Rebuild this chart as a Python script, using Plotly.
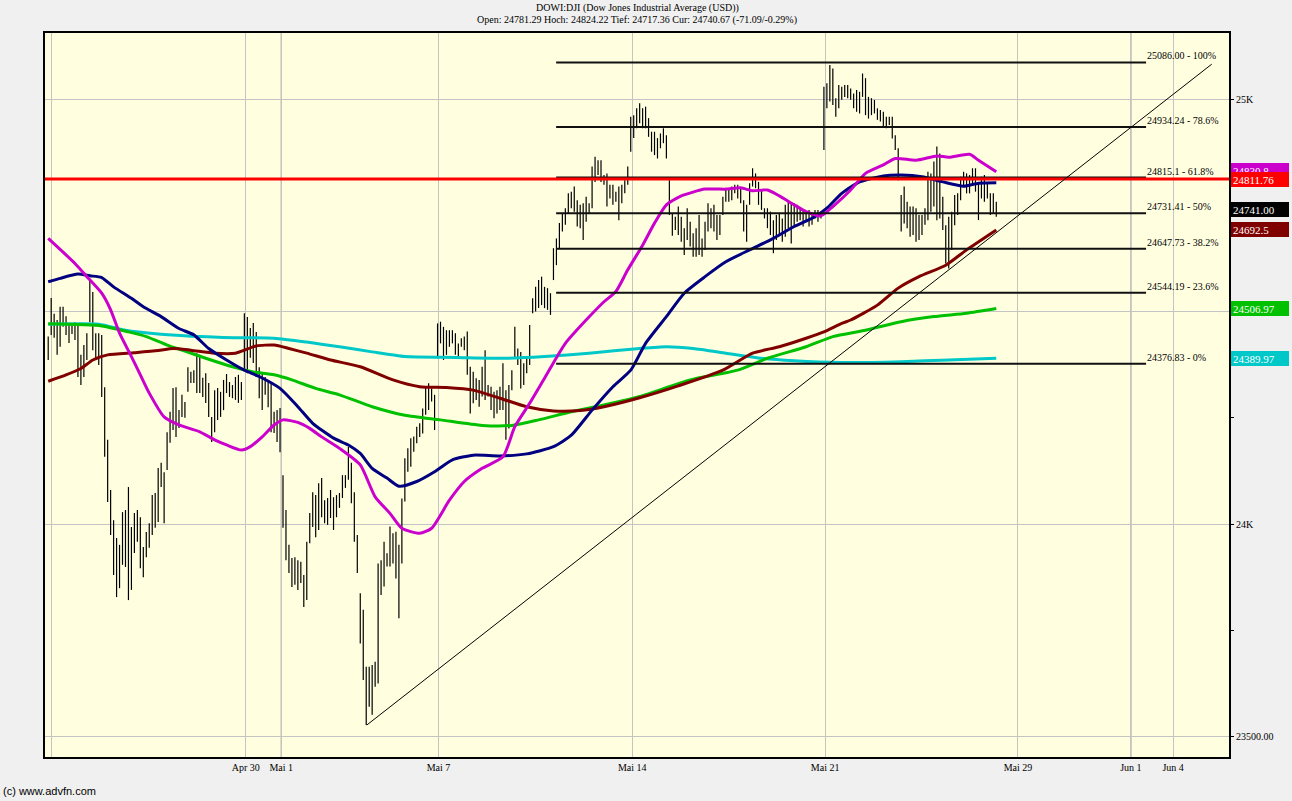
import plotly.graph_objects as go

# ---------------- data (30-minute bars, DJI, Apr 20 - May 25 2018) ----------------
bar_high = [
    24441, 24532, 24495, 24480, 24511, 24511, 24489, 24468, 24473, 24475,
    24468, 24398, 24421, 24449, 24574, 24546, 24449, 24449, 24445, 24322,
    24198, 24080, 24009, 23967, 23951, 24028, 24033, 24087, 23993, 24026,
    24033, 24016, 23946, 23981, 24002, 24068, 24073, 24132, 24144, 24122,
    24216, 24264, 24320, 24322, 24268, 24304, 24287, 24369, 24358, 24362,
    24402, 24398, 24344, 24355, 24332, 24252, 24315, 24320, 24311, 24339,
    24353, 24334, 24327, 24346, 24351, 24334, 24496, 24487, 24461, 24473,
    24452, 24369, 24355, 24346, 24339, 24332, 24264, 24268, 24273, 24115,
    24033, 23951, 23920, 23922, 23915, 23911, 23880, 23958, 24026, 24075,
    24068, 24096, 24108, 24056, 24061, 24080, 24063, 24068, 24073, 24115,
    24115, 24181, 24144, 24075, 23974, 23837, 23798, 23664, 23664, 23668,
    23676, 23907, 23915, 23958, 23931, 23994, 23978, 23982, 23951, 24060,
    24155, 24178, 24202, 24206, 24229, 24237, 24272, 24323, 24331, 24319,
    24304, 24472, 24476, 24464, 24456, 24456, 24456, 24449, 24425, 24437,
    24441, 24453, 24370, 24358, 24343, 24339, 24370, 24409, 24327, 24323,
    24311, 24315, 24323, 24378, 24315, 24327, 24362, 24464, 24413, 24405,
    24378, 24394, 24468, 24531, 24558, 24574, 24582, 24558, 24555, 24543,
    24649, 24672, 24708, 24731, 24743, 24778, 24782, 24794, 24762, 24751,
    24755, 24770, 24755, 24841, 24864, 24856, 24856, 24821, 24825, 24798,
    24798, 24782, 24794, 24798, 24809, 24841, 24958, 24962, 24978, 24990,
    24978, 24982, 24955, 24923, 24923, 24908, 24919, 24931, 24915, 24809,
    24730, 24723, 24747, 24723, 24696, 24743, 24711, 24684, 24696, 24727,
    24672, 24711, 24755, 24743, 24751, 24727, 24727, 24770, 24790, 24790,
    24794, 24798, 24798, 24790, 24762, 24751, 24802, 24837, 24825, 24805,
    24786, 24743, 24743, 24735, 24715, 24727, 24731, 24719, 24751, 24758,
    24755, 24755, 24751, 24743, 24739, 24735, 24739, 24731, 24739, 24739,
    24735, 25029, 25037, 25080, 25072, 25002, 25033, 25029, 25033, 25033,
    25025, 25013, 25021, 25017, 25060, 25049, 25005, 25002, 24998, 24978,
    24974, 24970, 24958, 24958, 24958, 24915, 24884, 24774, 24794, 24758,
    24747, 24747, 24743, 24727, 24727, 24743, 24829, 24825, 24853, 24888,
    24872, 24770, 24703, 24723, 24735, 24774, 24778, 24817, 24829, 24825,
    24821, 24837, 24837, 24802, 24817, 24821, 24802, 24778, 24778, 24758,
]
bar_low = [
    24386, 24445, 24438, 24398, 24417, 24464, 24445, 24426, 24447, 24433,
    24346, 24327, 24346, 24386, 24475, 24409, 24386, 24374, 24299, 24158,
    24052, 23974, 23880, 23828, 23849, 23904, 23899, 23821, 23845, 23932,
    23958, 23896, 23875, 23922, 23944, 23974, 23991, 24005, 24087, 24002,
    24127, 24191, 24221, 24205, 24226, 24252, 24250, 24311, 24332, 24332,
    24308, 24308, 24299, 24285, 24252, 24193, 24216, 24245, 24252, 24268,
    24308, 24299, 24296, 24292, 24285, 24292, 24362, 24355, 24391, 24379,
    24346, 24296, 24268, 24304, 24275, 24216, 24214, 24193, 24169, 23991,
    23915, 23885, 23852, 23857, 23845, 23861, 23805, 23821, 23955, 23993,
    23969, 23986, 24016, 24002, 23998, 24014, 23986, 24016, 24038, 24061,
    24085, 24104, 24049, 23958, 23885, 23719, 23633, 23527, 23570, 23551,
    23617, 23625, 23833, 23853, 23900, 23900, 23907, 23872, 23778, 23907,
    24053, 24123, 24135, 24170, 24190, 24205, 24213, 24257, 24268, 24288,
    24221, 24390, 24425, 24386, 24398, 24417, 24425, 24398, 24390, 24417,
    24409, 24351, 24260, 24284, 24292, 24276, 24300, 24292, 24300, 24268,
    24249, 24260, 24268, 24268, 24198, 24225, 24315, 24390, 24374, 24319,
    24327, 24355, 24374, 24496, 24500, 24508, 24515, 24508, 24504, 24492,
    24574, 24609, 24649, 24688, 24704, 24731, 24743, 24735, 24700, 24696,
    24668, 24711, 24731, 24743, 24805, 24821, 24805, 24798, 24747, 24766,
    24751, 24758, 24715, 24755, 24778, 24798, 24876, 24908, 24931, 24943,
    24931, 24931, 24911, 24876, 24868, 24860, 24884, 24896, 24860, 24727,
    24678, 24692, 24680, 24664, 24633, 24668, 24653, 24629, 24629, 24633,
    24629, 24645, 24688, 24696, 24688, 24668, 24680, 24727, 24758, 24758,
    24762, 24778, 24766, 24755, 24688, 24664, 24751, 24794, 24790, 24751,
    24739, 24719, 24696, 24680, 24637, 24668, 24680, 24664, 24676, 24696,
    24660, 24700, 24711, 24715, 24700, 24711, 24700, 24704, 24719, 24711,
    24719, 24880, 24978, 24994, 24986, 24958, 24978, 24998, 25005, 25002,
    24998, 24978, 24970, 24966, 25005, 24962, 24954, 24962, 24966, 24951,
    24947, 24935, 24931, 24939, 24907, 24880, 24809, 24688, 24707, 24696,
    24676, 24680, 24664, 24668, 24680, 24704, 24715, 24735, 24747, 24715,
    24719, 24692, 24613, 24601, 24645, 24703, 24727, 24762, 24794, 24778,
    24778, 24798, 24782, 24715, 24766, 24758, 24766, 24727, 24731, 24723,
]

# moving averages (bar index, value)
ma_magenta_x = [0, 9, 13, 18, 21, 24, 28, 31, 34, 39, 44, 51, 56, 60, 65, 68, 72, 76, 79, 84, 88, 92, 98, 105, 110,
                115, 119, 125, 129, 135, 140, 146, 153, 157, 162, 167, 174, 181, 187, 191, 195, 200, 204, 208, 213,
                221, 228, 233, 237, 242, 246, 251, 255, 260, 264, 270, 275, 281, 285, 292, 299, 303, 310, 313, 319]
ma_magenta_y = [24672, 24613, 24582, 24543, 24504, 24449, 24394, 24351, 24308, 24252, 24233, 24217, 24198, 24186,
                24174, 24182, 24205, 24233, 24245, 24239, 24225, 24205, 24178, 24139, 24064, 24025, 23990, 23978,
                23990, 24056, 24100, 24131, 24158, 24229, 24284, 24343, 24425, 24480, 24523, 24547, 24598, 24656,
                24708, 24751, 24772, 24788, 24788, 24791, 24784, 24786, 24772, 24751, 24735, 24725, 24747, 24786,
                24825, 24845, 24860, 24856, 24866, 24863, 24870, 24856, 24829]
ma_navy_x = [0, 4, 10, 14, 18, 22, 28, 32, 38, 44, 49, 54, 60, 66, 71, 78, 84, 89, 96, 101, 105, 109, 114, 118, 124,
             130, 136, 143, 152, 161, 170, 176, 183, 190, 196, 201, 208, 214, 221, 228, 236, 244, 251, 258, 262,
             267, 273, 281, 287, 294, 301, 308, 313, 319]
ma_navy_y = [24570, 24578, 24588, 24584, 24580, 24558, 24531, 24511, 24488, 24460, 24445, 24413, 24386, 24362,
             24347, 24319, 24276, 24237, 24202, 24186, 24166, 24131, 24108, 24089, 24100, 24123, 24151, 24162,
             24160, 24165, 24182, 24209, 24268, 24323, 24362, 24425, 24488, 24543, 24582, 24617, 24645, 24672,
             24700, 24723, 24743, 24778, 24805, 24819, 24821, 24817, 24805, 24795, 24802, 24803]
ma_maroon_x = [0, 6, 11, 15, 20, 29, 37, 42, 48, 56, 63, 70, 76, 81, 87, 95, 105, 116, 125, 134, 143, 152, 161,
               170, 179, 187, 199, 212, 227, 237, 246, 255, 261, 267, 270, 279, 286, 293, 302, 309, 319]
ma_maroon_y = [24336, 24351, 24366, 24386, 24398, 24403, 24408, 24413, 24409, 24402, 24402, 24419, 24421, 24413,
               24402, 24386, 24370, 24339, 24323, 24321, 24315, 24296, 24276, 24266, 24267, 24276, 24297, 24325,
               24362, 24402, 24417, 24437, 24452, 24472, 24480, 24515, 24555, 24582, 24609, 24645, 24692]
ma_green_x = [0, 18, 27, 33, 40, 46, 53, 62, 69, 76, 82, 90, 98, 109, 120, 132, 146, 156, 165, 176, 187, 199, 216,
              232, 242, 255, 264, 275, 287, 298, 309, 319]
ma_green_y = [24471, 24466, 24452, 24441, 24421, 24407, 24390, 24370, 24358, 24351, 24339, 24319, 24304, 24276,
              24256, 24245, 24232, 24232, 24245, 24264, 24280, 24300, 24339, 24362, 24390, 24417, 24441, 24456,
              24476, 24488, 24496, 24507]
ma_cyan_x = [0, 17, 26, 37, 48, 59, 76, 87, 98, 109, 120, 137, 154, 167, 182, 199, 208, 217, 228, 240, 251, 267,
             287, 303, 319]
ma_cyan_y = [24470, 24470, 24456, 24447, 24442, 24439, 24437, 24428, 24417, 24405, 24394, 24392, 24390, 24394,
             24402, 24413, 24417, 24413, 24402, 24390, 24384, 24380, 24382, 24386, 24390]

fib_levels = [25086.00, 24934.24, 24815.1, 24731.41, 24647.73, 24544.19, 24376.83]
fib_labels = ["25086.00 - 100%", "24934.24 - 78.6%", "24815.1 - 61.8%", "24731.41 - 50%",
              "24647.73 - 38.2%", "24544.19 - 23.6%", "24376.83 - 0%"]
fib_start, fib_end = 170.9, 369.4

trend_x = [107.2, 391.5]
trend_y = [23527, 25082]
resistance = 24811.76

tick_pos = [1.2, 66.5, 78.4, 131.3, 196.5, 261.4, 326.3, 364.3, 378.5]
tick_text = ["", "Apr 30", "Mai 1", "Mai 7", "Mai 14", "Mai 21", "Mai 29", "Jun 1", "Jun 4"]
dark_ticks = ["Mai 1", "Jun 1"]

price_tags = [  # (value, text, colour)
    (24830.8, "24830.8", "#CC00CC"),
    (24811.76, "24811.76", "#FF0000"),
    (24741.00, "24741.00", "#000000"),
    (24692.5, "24692.5", "#800000"),
    (24506.97, "24506.97", "#00C000"),
    (24389.97, "24389.97", "#00C8C8"),
]

title1 = "DOWI:DJI (Dow Jones Industrial Average (USD))"
title2 = "Open: 24781.29 Hoch: 24824.22 Tief: 24717.36 Cur: 24740.67 (-71.09/-0.29%)"

# ---------------- figure ----------------
SERIF = "Liberation Serif, Times New Roman, serif"
fig = go.Figure()

bx, by = [], []
for i, (h, l) in enumerate(zip(bar_high, bar_low)):
    bx += [i, i, None]
    by += [l, h, None]
fig.add_trace(go.Scatter(x=bx, y=by, mode="lines", line=dict(color="black", width=1.2),
                         hoverinfo="skip", showlegend=False))

for xs, ys, col in [(ma_cyan_x, ma_cyan_y, "#00C8C8"), (ma_green_x, ma_green_y, "#00C000"),
                    (ma_maroon_x, ma_maroon_y, "#800000"), (ma_navy_x, ma_navy_y, "#000080"),
                    (ma_magenta_x, ma_magenta_y, "#CC00CC")]:
    fig.add_trace(go.Scatter(x=xs, y=ys, mode="lines", line=dict(color=col, width=3, shape="spline", smoothing=0.6),
                             hoverinfo="skip", showlegend=False))

fx, fy = [], []
for lv in fib_levels:
    fx += [fib_start, fib_end, None]
    fy += [lv, lv, None]
fig.add_trace(go.Scatter(x=fx, y=fy, mode="lines", line=dict(color="#111111", width=2),
                         hoverinfo="skip", showlegend=False))

fig.add_trace(go.Scatter(x=[-5, 400], y=[resistance, resistance], mode="lines",
                         line=dict(color="#FF0000", width=3), hoverinfo="skip", showlegend=False))
fig.add_trace(go.Scatter(x=trend_x, y=trend_y, mode="lines", line=dict(color="black", width=1),
                         hoverinfo="skip", showlegend=False))

annotations = []
for lv, lab in zip(fib_levels, fib_labels):
    annotations.append(dict(x=fib_end, y=lv, xref="x", yref="y", text=lab, showarrow=False,
                            xanchor="left", yanchor="bottom", xshift=-1, yshift=-1,
                            font=dict(family=SERIF, size=10, color="black")))
for val, txt, col in price_tags:
    annotations.append(dict(x=1, y=val, xref="paper", yref="y", text=txt, showarrow=False,
                            xanchor="left", yanchor="middle", xshift=2, width=54, height=11,
                            align="left", bgcolor=col, bordercolor=col, borderwidth=1, borderpad=1,
                            font=dict(family=SERIF, size=11, color="white")))
annotations.append(dict(x=0.5, y=1, xref="paper", yref="paper", text=title1, showarrow=False,
                        xanchor="center", yanchor="bottom", yshift=17,
                        font=dict(family=SERIF, size=10, color="black")))
annotations.append(dict(x=0.5, y=1, xref="paper", yref="paper", text=title2, showarrow=False,
                        xanchor="center", yanchor="bottom", yshift=5,
                        font=dict(family=SERIF, size=10, color="black")))
annotations.append(dict(x=0, y=0, xref="paper", yref="paper", text="(c) www.advfn.com", showarrow=False,
                        xanchor="left", yanchor="middle", xshift=-44, yshift=-34,
                        font=dict(family="Liberation Sans, Arial, sans-serif", size=11, color="black")))

shapes = []
for p, t in zip(tick_pos, tick_text):
    if t in dark_ticks:
        shapes.append(dict(type="line", xref="x", yref="paper", x0=p, x1=p, y0=0, y1=1,
                           line=dict(color="#8C8C8C", width=1), layer="below"))

fig.update_layout(
    width=1292, height=801,
    margin=dict(l=45, r=63, t=33, b=44),
    paper_bgcolor="#F0F0F0", plot_bgcolor="#FFFFE0",
    annotations=annotations, shapes=shapes,
    showlegend=False,
)
fig.update_xaxes(range=[-1.08, 397.3], tickvals=tick_pos, ticktext=tick_text,
                 showgrid=True, gridcolor="#C4C4C4", gridwidth=1, zeroline=False,
                 showline=True, linecolor="black", linewidth=2, mirror=True,
                 ticks="", tickfont=dict(family=SERIF, size=10, color="black"))
fig.update_yaxes(range=[23451.8, 25155.3], side="right",
                 tickvals=[23500, 24000, 24500, 25000], ticktext=["23500.00", "24K", "", "25K"],
                 showgrid=True, gridcolor="#C4C4C4", gridwidth=1, zeroline=False,
                 showline=True, linecolor="black", linewidth=2, mirror=True,
                 ticks="outside", ticklen=3, tickcolor="black",
                 minor=dict(tickvals=[23750, 24250, 24750], ticks="outside", ticklen=3,
                            tickcolor="black", showgrid=False),
                 tickfont=dict(family=SERIF, size=10, color="black"))

fig.write_html("out.html", config={"displayModeBar": False},
               post_script="document.body.style.margin='0';document.body.style.overflow='hidden';")
